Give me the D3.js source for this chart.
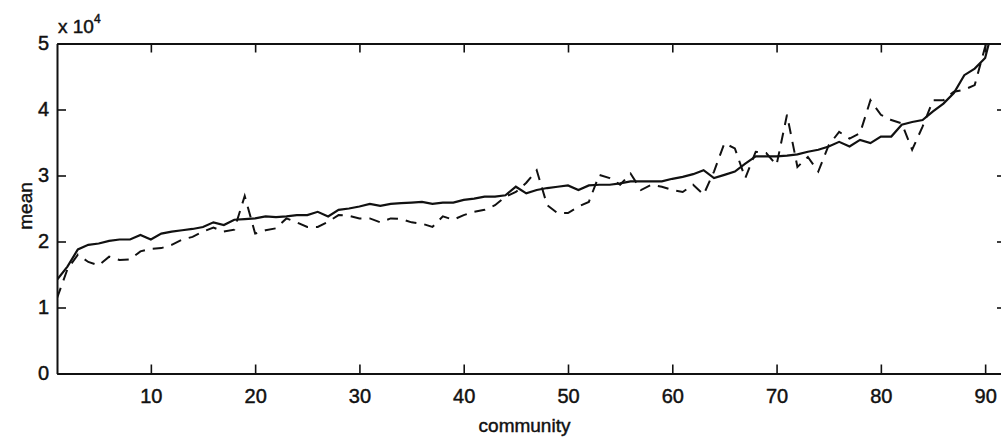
<html lang="en">
<head>
    <meta charset="UTF-8">
    <title>mean by community</title>
    <script src="https://d3js.org/d3.v7.min.js"></script>
    <style>
        body {
            margin: 0;
            background: #fff;
        }
        svg text {
            font-family: 'Liberation Sans', Arial, Helvetica, sans-serif;
            fill: #111;
            stroke: #111;
            stroke-width: 0.45px;
        }
    </style>
</head>
<body>
    <div id="chart"></div>

    <script>
        // values in units of 10^4
        const solid = [
            1.42, 1.62, 1.88, 1.95, 1.97, 2.01, 2.03, 2.03, 2.10, 2.03,
            2.12, 2.15, 2.17, 2.19, 2.22, 2.29, 2.25, 2.33, 2.34, 2.35,
            2.38, 2.37, 2.38, 2.40, 2.40, 2.45, 2.38, 2.48, 2.50, 2.53,
            2.57, 2.54, 2.57, 2.58, 2.59, 2.60, 2.57, 2.59, 2.59, 2.63,
            2.65, 2.68, 2.68, 2.70, 2.83, 2.73, 2.78, 2.81, 2.83, 2.85,
            2.78, 2.85, 2.86, 2.86, 2.88, 2.91, 2.91, 2.91, 2.91, 2.95,
            2.98, 3.02, 3.08, 2.96, 3.01, 3.06, 3.18, 3.29, 3.29, 3.29,
            3.30, 3.32, 3.36, 3.39, 3.44, 3.51, 3.44, 3.54, 3.49, 3.59,
            3.59, 3.77, 3.81, 3.84, 3.97, 4.09, 4.25, 4.52, 4.62, 4.78,
            5.40
        ];
        const dashed = [
            1.14, 1.58, 1.80, 1.69, 1.64, 1.77, 1.72, 1.73, 1.85, 1.89,
            1.90, 1.95, 2.03, 2.07, 2.15, 2.21, 2.15, 2.18, 2.69, 2.12,
            2.17, 2.20, 2.35, 2.29, 2.22, 2.22, 2.30, 2.40, 2.39, 2.35,
            2.35, 2.29, 2.35, 2.34, 2.29, 2.27, 2.22, 2.38, 2.33, 2.40,
            2.45, 2.48, 2.55, 2.68, 2.75, 2.89, 3.08, 2.55, 2.43, 2.43,
            2.53, 2.60, 3.01, 2.96, 2.86, 3.03, 2.78, 2.86, 2.83, 2.78,
            2.75, 2.86, 2.71, 3.06, 3.49, 3.41, 2.96, 3.36, 3.34, 3.16,
            3.92, 3.13, 3.28, 3.06, 3.46, 3.66, 3.56, 3.64, 4.14, 3.92,
            3.84, 3.79, 3.39, 3.74, 4.14, 4.14, 4.27, 4.30, 4.37, 4.95,
            5.60
        ];
        const xTicks = [10, 20, 30, 40, 50, 60, 70, 80, 90];
        const yTicks = [0, 1, 2, 3, 4, 5];

        const width = 1001, height = 440;
        const margin = { top: 43.5, right: -5, bottom: 66.5, left: 57 };
        const innerW = width - margin.left - margin.right;
        const innerH = height - margin.top - margin.bottom;

        const svg = d3.select('#chart')
            .append('svg')
            .attr('width', width)
            .attr('height', height);

        const g = svg.append('g')
            .attr('transform', `translate(${margin.left},${margin.top})`);

        const x = d3.scaleLinear().domain([1, 92]).range([0, innerW]);
        const y = d3.scaleLinear().domain([0, 5]).range([innerH, 0]);

        g.append('clipPath').attr('id', 'clip')
            .append('rect').attr('width', innerW).attr('height', innerH);

        const line = d3.line()
            .x((d, i) => x(i + 1))
            .y(d => y(d));

        const plot = g.append('g').attr('clip-path', 'url(#clip)');

        plot.append('path')
            .datum(dashed)
            .attr('d', line)
            .attr('fill', 'none')
            .attr('stroke', '#111')
            .attr('stroke-width', 2)
            .attr('stroke-dasharray', '11,8');

        plot.append('path')
            .datum(solid)
            .attr('d', line)
            .attr('fill', 'none')
            .attr('stroke', '#111')
            .attr('stroke-width', 2.2);

        // axes, ticks pointing inward
        const tickLen = 9;
        const fmt = d3.format('d');
        const axBottom = g.append('g')
            .attr('transform', `translate(0,${innerH})`)
            .call(d3.axisBottom(x).tickValues(xTicks).tickFormat(fmt).tickSizeInner(-tickLen).tickSizeOuter(0).tickPadding(15));
        const axTop = g.append('g')
            .call(d3.axisTop(x).tickValues(xTicks).tickSizeInner(-tickLen).tickSizeOuter(0).tickFormat(''));
        const axLeft = g.append('g')
            .call(d3.axisLeft(y).tickValues(yTicks).tickFormat(fmt).tickSizeInner(-tickLen).tickSizeOuter(0).tickPadding(7));
        const axRight = g.append('g')
            .attr('transform', `translate(${innerW},0)`)
            .call(d3.axisRight(y).tickValues(yTicks).tickSizeInner(-tickLen).tickSizeOuter(0).tickFormat(''));

        [axBottom, axTop, axLeft, axRight].forEach(a => {
            a.attr('font-size', null).attr('font-family', null);
            a.select('.domain').attr('stroke', '#111').attr('stroke-width', 2);
            a.selectAll('.tick line').attr('stroke', '#111').attr('stroke-width', 1.6);
            a.selectAll('.tick text')
                .style('font-size', '20px')
                .attr('fill', '#111');
        });
        axLeft.selectAll('.tick text').attr('dx', -1);

        svg.append('text')
            .attr('x', margin.left + innerW / 2 - 7)
            .attr('y', 432)
            .attr('text-anchor', 'middle')
            .style('font-size', '19px')
            .text('community');

        svg.append('text')
            .attr('transform', 'translate(32,206) rotate(-90)')
            .attr('text-anchor', 'middle')
            .style('font-size', '19px')
            .text('mean');

        const exp = svg.append('text')
            .attr('x', 58)
            .attr('y', 33)
            .style('font-size', '19px');
        exp.append('tspan').text('x 10');
        exp.append('tspan').attr('dy', -10).style('font-size', '12px').text('4');
    </script>
</body>
</html>
